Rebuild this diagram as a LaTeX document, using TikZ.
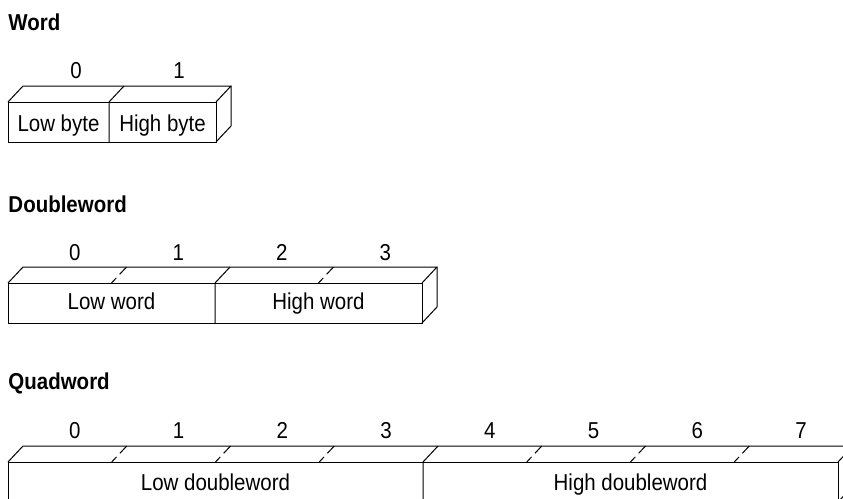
\documentclass[tikz,border=0pt]{standalone}
\usepackage{fontspec}
\setmainfont{Liberation Sans}[FakeStretch=0.89]
\begin{document}
\begin{tikzpicture}[x=1pt,y=-1pt,line width=1pt,
  title/.style={anchor=base west,inner sep=0pt,font=\fontsize{23}{25}\selectfont\bfseries},
  num/.style={anchor=base,inner sep=0pt,font=\fontsize{23}{25}\selectfont},
  lab/.style={anchor=base,inner sep=0pt,font=\fontsize{23}{25}\selectfont},
  brk/.style={dash pattern=on 7pt off 5pt on 14pt}]
\useasboundingbox (0,0) rectangle (843,498);
\clip (0,0) rectangle (843,498);
\def\dx{15}\def\dy{16}\def\H{40}
% ---------- Word ----------
\node[title] (tw) at (8,30) {Word};
\coordinate (wA) at (8,102);
\coordinate (wB) at (216,142);
\draw (wA) rectangle (wB);
\draw (8,102) -- (8+\dx,102-\dy) -- (216+\dx,102-\dy) -- (216,102);
\draw (216+\dx,102-\dy) -- (216+\dx,142-\dy) -- (216,142);
\draw (109,142) -- (109,102) -- (109+\dx,102-\dy);
\node[num] (w0) at (76,78) {0};
\node[num] (w1) at (179,78) {1};
\node[lab] (wl) at (58.5,131.5) {Low byte};
\node[lab] (wh) at (162.5,131.5) {High byte};
% ---------- Doubleword ----------
\node[title] (td) at (8,212) {Doubleword};
\def\w{103.5}
\def\T{283}
\draw (8,\T) rectangle (8+4*\w,\T+\H);
\draw (8,\T) -- (8+\dx,\T-\dy) -- (8+4*\w+\dx,\T-\dy) -- (8+4*\w,\T);
\draw (8+4*\w+\dx,\T-\dy) -- (8+4*\w+\dx,\T+\H-\dy) -- (8+4*\w,\T+\H);
\foreach \i in {1,3}{\draw[brk] (8+\i*\w,\T) -- (8+\i*\w+\dx,\T-\dy);}
\draw (8+2*\w,\T+\H) -- (8+2*\w,\T) -- (8+2*\w+\dx,\T-\dy);
\foreach \i in {0,...,3}{\node[num] (d\i) at (8+\dx+\i*\w+\w/2,260) {\i};}
\node[lab] (dl) at (8+\w,309.5) {Low word};
\node[lab] (dh) at (8+3*\w,309.5) {High word};
% ---------- Quadword ----------
\node[title] (tq) at (8,389) {Quadword};
\def\w{103.75}
\def\T{462}
\draw (8,\T) rectangle (8+8*\w,\T+\H);
\draw (8,\T) -- (8+\dx,\T-\dy) -- (8+8*\w+\dx,\T-\dy) -- (8+8*\w,\T);
\draw (8+8*\w+\dx,\T-\dy) -- (8+8*\w+\dx,\T+\H-\dy) -- (8+8*\w,\T+\H);
\foreach \i in {1,2,3,5,6,7}{\draw[brk] (8+\i*\w,\T) -- (8+\i*\w+\dx,\T-\dy);}
\draw (8+4*\w,\T+\H) -- (8+4*\w,\T) -- (8+4*\w+\dx,\T-\dy);
\foreach \i in {0,...,7}{\node[num] (q\i) at (8+\dx+\i*\w+\w/2,438) {\i};}
\node[lab] (ql) at (8+2*\w,490) {Low doubleword};
\node[lab] (qh) at (8+6*\w,490) {High doubleword};
\end{tikzpicture}
\end{document}
